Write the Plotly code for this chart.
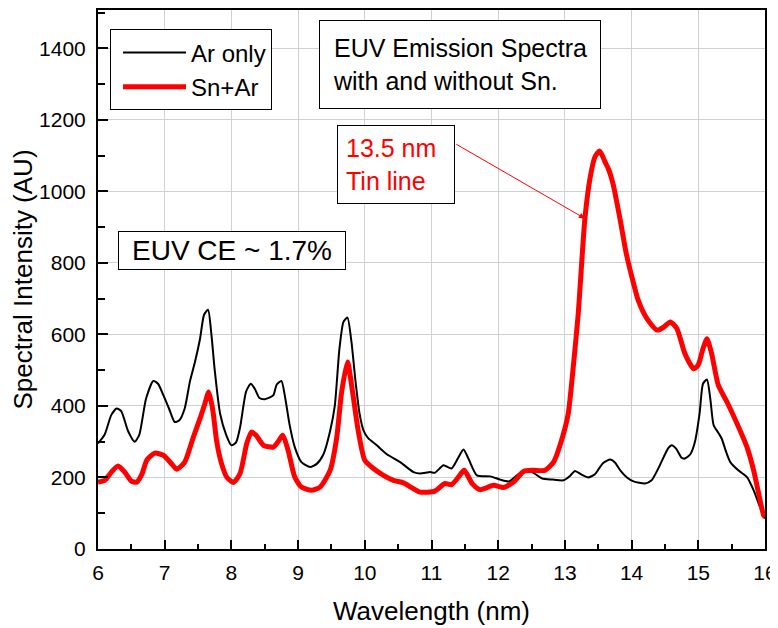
import plotly.graph_objects as go

# Ar only (black)
x_ar = [6.00, 6.10, 6.20, 6.28, 6.35, 6.45, 6.55, 6.62, 6.72, 6.83, 6.90, 6.98, 7.07, 7.15, 7.22, 7.30,
        7.38, 7.45, 7.53, 7.59, 7.65, 7.70, 7.75, 7.83, 7.92, 8.00, 8.07, 8.13, 8.22, 8.29, 8.35, 8.42,
        8.50, 8.57, 8.63, 8.68, 8.75, 8.80, 8.87, 8.95, 9.05, 9.18, 9.28, 9.38, 9.48, 9.55, 9.62, 9.68,
        9.74, 9.80, 9.86, 9.92, 9.98, 10.05, 10.18, 10.33, 10.53, 10.73, 10.83, 10.98, 11.05, 11.18,
        11.30, 11.40, 11.48, 11.56, 11.68, 11.88, 12.03, 12.16, 12.33, 12.46, 12.66, 12.81, 12.98,
        13.08, 13.15, 13.25, 13.35, 13.45, 13.57, 13.68, 13.75, 13.83, 13.93, 14.03, 14.20, 14.30,
        14.40, 14.48, 14.55, 14.60, 14.67, 14.75, 14.80, 14.88, 14.95, 15.02, 15.07, 15.13, 15.18,
        15.23, 15.30, 15.35, 15.42, 15.48, 15.60, 15.73, 15.83, 15.92, 16.00]
y_ar = [295, 320, 375, 393, 385, 330, 300, 320, 420, 470, 462, 430, 390, 355, 360, 393,
        470, 520, 588, 655, 669, 600, 500, 379, 320, 290, 298, 340, 440, 462, 448, 422,
        419, 423, 430, 460, 470, 430, 350, 285, 243, 229, 238, 265, 330, 400, 560, 635,
        647, 579, 470, 380, 332, 310, 290, 265, 243, 215, 211, 215, 213, 234,
        225, 255, 278, 250, 206, 203, 194, 189, 213, 220, 197, 194, 192,
        205, 218, 208, 200, 209, 240, 250, 242, 220, 200, 189, 183, 192,
        225, 257, 282, 290, 280, 255, 253, 265, 300, 380, 462, 474, 420,
        346, 325, 309, 270, 243, 220, 201, 164, 120, 85]

# Sn+Ar (red)
x_sn = [6.00, 6.10, 6.20, 6.30, 6.40, 6.50, 6.58, 6.66, 6.73, 6.85, 6.98, 7.10, 7.18, 7.30, 7.43,
        7.53, 7.60, 7.66, 7.72, 7.78, 7.85, 7.93, 8.03, 8.13, 8.23, 8.30, 8.37, 8.48, 8.63, 8.70,
        8.77, 8.85, 8.95, 9.05, 9.20, 9.33, 9.48, 9.58, 9.65, 9.74, 9.82, 9.90, 10.00, 10.13,
        10.28, 10.43, 10.58, 10.70, 10.83, 11.05, 11.20, 11.30, 11.40, 11.49, 11.61, 11.73, 11.93,
        12.08, 12.23, 12.38, 12.53, 12.70, 12.83, 12.95, 13.05, 13.13, 13.20, 13.30, 13.38, 13.45,
        13.52, 13.57, 13.62, 13.65, 13.72, 13.83, 13.92, 14.03, 14.10, 14.23, 14.38, 14.48, 14.58,
        14.68, 14.80, 14.93, 15.00, 15.07, 15.13, 15.20, 15.30, 15.43, 15.58, 15.73, 15.83, 15.98, 16.00]
y_sn = [187, 192, 215, 232, 215, 190, 187, 210, 248, 268, 262, 239, 223, 243, 313,
        365, 405, 439, 390, 300, 240, 201, 186, 211, 295, 327, 318, 290, 285, 300,
        318, 276, 201, 173, 164, 173, 220, 313, 435, 523, 435, 332, 248, 225,
        206, 192, 185, 172, 159, 162, 183, 180, 200, 220, 183, 166, 178,
        172, 187, 217, 220, 220, 243, 304, 379, 518, 658, 924, 1040, 1096,
        1113, 1096, 1075, 1064, 1022, 919, 826, 742, 695, 644, 612, 620, 635,
        616, 546, 504, 515, 560, 588, 546, 458, 411, 351, 285, 220, 94, 90]

x_ticks = [6, 7, 8, 9, 10, 11, 12, 13, 14, 15, 16]
y_ticks = [0, 200, 400, 600, 800, 1000, 1200, 1400]

FONT = "Liberation Sans, Arial, sans-serif"

fig = go.Figure()
fig.add_trace(go.Scatter(x=x_ar, y=y_ar, mode="lines", name="Ar only",
                         line=dict(color="black", width=2, shape="spline", smoothing=0.6)))
fig.add_trace(go.Scatter(x=x_sn, y=y_sn, mode="lines", name="Sn+Ar",
                         line=dict(color="#ff0000", width=5, shape="spline", smoothing=0.6)))

# page body has an 8 px default margin, so the figure is sized to fit inside the window
fig.update_layout(
    width=770, height=620,
    margin=dict(l=90, r=13, t=2, b=79, autoexpand=False),
    paper_bgcolor="white", plot_bgcolor="white",
    font=dict(family=FONT, size=21, color="black"),
    showlegend=True,
    legend=dict(x=0.018, y=0.964, xanchor="left", yanchor="top",
                bordercolor="black", borderwidth=1, bgcolor="white",
                font=dict(size=24), itemwidth=63, indentation=7,
                entrywidth=170, entrywidthmode="pixels", tracegroupgap=0),
    annotations=[
        dict(x=0.332, y=0.981, xref="paper", yref="paper", xanchor="left", yanchor="top",
             text="EUV Emission Spectra<br>with and without Sn.", showarrow=False, align="left",
             font=dict(size=25, color="black"), bordercolor="black", borderwidth=1,
             bgcolor="white", borderpad=13),
        dict(x=0.358, y=0.786, xref="paper", yref="paper", xanchor="left", yanchor="top",
             text="13.5 nm<br>Tin line", showarrow=False, align="left", width=100,
             font=dict(size=25, color="#ff0000"), bordercolor="black", borderwidth=1,
             bgcolor="white", borderpad=8),
        dict(x=0.0304, y=0.590, xref="paper", yref="paper", xanchor="left", yanchor="top",
             text="EUV CE ~ 1.7%", showarrow=False, width=220, align="center",
             font=dict(size=28, color="black"), bordercolor="black", borderwidth=1,
             bgcolor="white", borderpad=3),
        dict(x=13.30, y=924, ax=11.35, ay=1134, xref="x", yref="y", axref="x", ayref="y",
             text="", showarrow=True, arrowhead=2, arrowsize=1.2, arrowwidth=1,
             arrowcolor="#ff0000"),
    ],
)

fig.update_xaxes(
    range=[6, 16], tickvals=x_ticks, ticks="inside", ticklen=9, tickwidth=2, tickcolor="black",
    showline=True, linecolor="black", linewidth=2, mirror=True,
    showgrid=True, gridcolor="#d0d0d0", gridwidth=1, zeroline=False,
    minor=dict(dtick=0.5, ticks="inside", ticklen=5, tickwidth=2, tickcolor="black", showgrid=False),
    title=dict(text="Wavelength (nm)", font=dict(size=26), standoff=19),
    ticklabelstandoff=4, automargin=False,
)
fig.update_yaxes(
    range=[0, 1507], tickvals=y_ticks, ticks="inside", ticklen=10, tickwidth=2, tickcolor="black",
    showline=True, linecolor="black", linewidth=2, mirror=True,
    showgrid=True, gridcolor="#d0d0d0", gridwidth=1, zeroline=False,
    minor=dict(dtick=100, ticks="inside", ticklen=7, tickwidth=2, tickcolor="black", showgrid=False),
    title=dict(text="Spectral Intensity (AU)", font=dict(size=26), standoff=2),
    ticklabelstandoff=6, automargin=False,
)

fig.write_html("out.html")
